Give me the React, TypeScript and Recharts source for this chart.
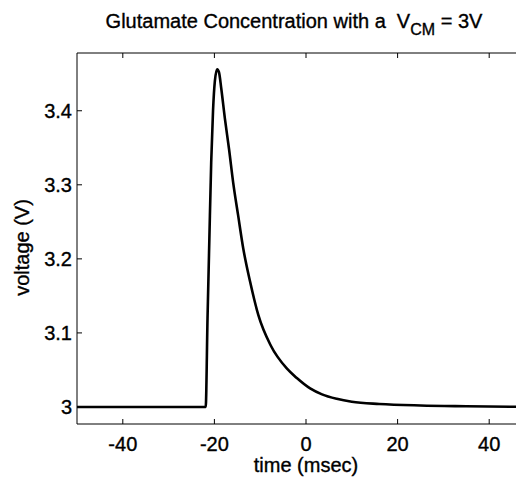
import { Label, Line, LineChart, XAxis, YAxis } from "recharts";

const timeMs = [
  -50, -21.9, -21.5, -21.1, -20.7, -20.3, -19.9, -19.4, -19.0, -18.5, -17.7, -16.8, -15.9, -14.8, -13.7, -12.2,
  -10.4, -7.7, -4.2, -2, 0.9, 3.5, 6.7, 10, 16, 25, 35, 50,
];
const voltage = [
  3, 3, 3.12, 3.227, 3.33, 3.4, 3.44, 3.456, 3.452, 3.43, 3.389, 3.348, 3.303, 3.258, 3.214, 3.169,
  3.124, 3.083, 3.052, 3.039, 3.025, 3.017, 3.011, 3.007, 3.004, 3.002, 3.001, 3,
];
const xTicks = [-40, -20, 0, 20, 40];
const yTicks = [3, 3.1, 3.2, 3.3, 3.4];

const data = timeMs.map((t, i) => ({ t, v: voltage[i] }));

const FONT = "'Liberation Sans', Arial, Helvetica, sans-serif";
const TICK_LEN = 5;
const TXT = { fontFamily: FONT, fill: "#000", stroke: "#000", strokeWidth: 0.35 };

function BottomTick({ x, y, payload }: any) {
  return (
    <g>
      <line x1={x} x2={x} y1={y} y2={y - TICK_LEN} stroke="#000" strokeWidth={1} />
      <text x={x} y={y + 27} textAnchor="middle" fontSize={20} {...TXT}>
        {payload.value}
      </text>
    </g>
  );
}

function TopTick({ x, y }: any) {
  return <line x1={x} x2={x} y1={y} y2={y + TICK_LEN} stroke="#000" strokeWidth={1} />;
}

function LeftTick({ x, y, payload }: any) {
  return (
    <g>
      <line x1={x} x2={x + TICK_LEN} y1={y} y2={y} stroke="#000" strokeWidth={1} />
      <text x={x - 5} y={y + 7} textAnchor="end" fontSize={20} {...TXT}>
        {payload.value}
      </text>
    </g>
  );
}

export default function App() {
  return (
    <div style={{ position: "fixed", left: 0, top: 0, width: 516, height: 483, overflow: "hidden", background: "#fff" }}>
      <svg width={516} height={50} style={{ position: "absolute", left: 0, top: 0 }}>
        <text x={294} y={28} textAnchor="middle" fontSize={20} style={{ whiteSpace: "pre" }} {...TXT}>
          {"Glutamate Concentration with a  V"}
          <tspan fontSize={16} dy={7}>CM</tspan>
          <tspan dy={-7}> = 3V</tspan>
        </text>
      </svg>
      <div style={{ position: "absolute", left: 0, top: 0 }}>
        <LineChart width={560} height={483} data={data} margin={{ top: 0, right: 25, bottom: 0, left: 0 }}>
          <XAxis
            xAxisId="bottom"
            dataKey="t"
            type="number"
            domain={[-50, 50]}
            ticks={xTicks}
            height={59}
            tickSize={0}
            tickMargin={0}
            tick={<BottomTick />}
            axisLine={{ stroke: "#000", strokeWidth: 1 }}
            tickLine={false}
          >
            <Label
              content={({ viewBox }: any) => (
                <text
                  x={viewBox.x + viewBox.width / 2}
                  y={viewBox.y + 48}
                  textAnchor="middle"
                  fontSize={20}
                  {...TXT}
                >
                  time (msec)
                </text>
              )}
            />
          </XAxis>
          <XAxis
            xAxisId="top"
            orientation="top"
            dataKey="t"
            type="number"
            domain={[-50, 50]}
            ticks={xTicks}
            height={53}
            tickSize={0}
            tickMargin={0}
            tick={<TopTick />}
            axisLine={{ stroke: "#000", strokeWidth: 1 }}
            tickLine={false}
          />
          <YAxis
            type="number"
            domain={[2.977, 3.478]}
            ticks={yTicks}
            width={77}
            tickSize={0}
            tickMargin={0}
            tick={<LeftTick />}
            axisLine={{ stroke: "#000", strokeWidth: 1 }}
            tickLine={false}
            allowDataOverflow
          >
            <Label
              content={({ viewBox }: any) => {
                const cx = 29;
                const cy = viewBox.y + viewBox.height / 2 + 9;
                return (
                  <text
                    x={cx}
                    y={cy}
                    transform={`rotate(-90, ${cx}, ${cy})`}
                    textAnchor="middle"
                    fontSize={20}
                    {...TXT}
                  >
                    voltage (V)
                  </text>
                );
              }}
            />
          </YAxis>
          <Line
            xAxisId="bottom"
            type="monotone"
            dataKey="v"
            stroke="#000"
            strokeWidth={2.6}
            dot={false}
            isAnimationActive={false}
          />
        </LineChart>
      </div>
    </div>
  );
}
